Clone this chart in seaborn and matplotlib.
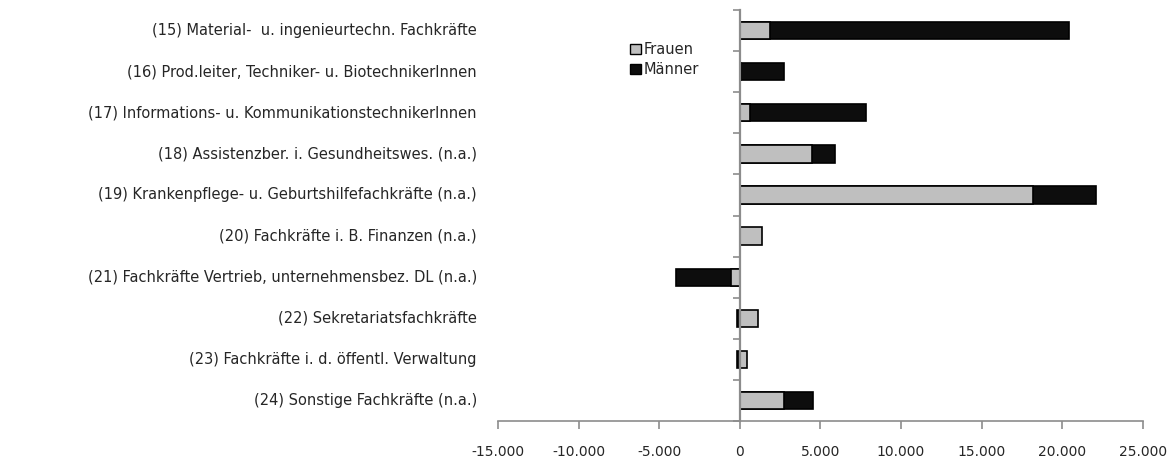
import pandas as pd
import matplotlib.pyplot as plt
import matplotlib.ticker as mticker
from matplotlib.patches import Patch
import seaborn as sns

berufe = [
    "(15) Material-  u. ingenieurtechn. Fachkräfte",
    "(16) Prod.leiter, Techniker- u. BiotechnikerInnen",
    "(17) Informations- u. KommunikationstechnikerInnen",
    "(18) Assistenzber. i. Gesundheitswes. (n.a.)",
    "(19) Krankenpflege- u. Geburtshilfefachkräfte (n.a.)",
    "(20) Fachkräfte i. B. Finanzen (n.a.)",
    "(21) Fachkräfte Vertrieb, unternehmensbez. DL (n.a.)",
    "(22) Sekretariatsfachkräfte",
    "(23) Fachkräfte i. d. öffentl. Verwaltung",
    "(24) Sonstige Fachkräfte (n.a.)",
]
frauen = [1900, 50, 650, 4500, 18200, 1400, -550, 1150, 420, 2750]
maenner = [18500, 2700, 7150, 1400, 3900, 0, -3400, -150, -150, 1800]

GRAU = "#bfbfbf"
SCHWARZ = "#0d0d0d"
ACHSE = "#8c8c8c"

df = pd.DataFrame({"Beruf": berufe, "Frauen": frauen, "Männer": maenner})
# Excel-Stapelung: gleiche Vorzeichen werden aufeinander gestapelt
df["Männer_Ende"] = [f + m if f * m > 0 else m for f, m in zip(frauen, maenner)]

sns.set_style("white")
plt.rcParams["font.family"] = ["DejaVu Sans"]

fig, ax = plt.subplots(figsize=(11.72, 4.61), dpi=100)
fig.subplots_adjust(left=0.425, right=0.975, top=0.978, bottom=0.087)

sns.barplot(data=df, y="Beruf", x="Männer_Ende", orient="h", color=SCHWARZ,
            width=0.42, edgecolor="black", linewidth=1.2, saturation=1, ax=ax)
sns.barplot(data=df, y="Beruf", x="Frauen", orient="h", color=GRAU,
            width=0.42, edgecolor="black", linewidth=1.2, saturation=1, ax=ax)

ax.set_xlim(-15000, 25000)
ax.set_ylim(len(berufe) - 0.5, -0.5)
ax.set_xlabel("")
ax.set_ylabel("")

ax.xaxis.set_major_locator(mticker.MultipleLocator(5000))
ax.xaxis.set_major_formatter(
    mticker.FuncFormatter(lambda v, p: f"{v:,.0f}".replace(",", ".")))
ax.tick_params(axis="x", bottom=True, direction="out", length=6, width=1.2,
               color=ACHSE, pad=11, labelsize=10, labelcolor="#262626")

# Kategorienachse liegt bei 0, Beschriftung links außen
for s in ["top", "right"]:
    ax.spines[s].set_visible(False)
ax.spines["left"].set_position(("data", 0))
ax.spines["left"].set_color(ACHSE)
ax.spines["left"].set_linewidth(1.6)
ax.spines["left"].set_zorder(5)
ax.spines["bottom"].set_color(ACHSE)
ax.spines["bottom"].set_linewidth(1.2)

ax.set_yticks([i - 0.5 for i in range(len(berufe) + 1)])
ax.set_yticklabels([])
ax.tick_params(axis="y", left=True, direction="out", length=5, width=1.2,
               color=ACHSE)

for i, b in enumerate(berufe):
    ax.text(-0.033, i, b, transform=ax.get_yaxis_transform(), ha="right",
            va="center", fontsize=10.5, color="#262626")

handles = [Patch(facecolor=GRAU, edgecolor="black", label="Frauen"),
           Patch(facecolor=SCHWARZ, edgecolor="black", label="Männer")]
ax.legend(handles=handles, loc="upper left", bbox_to_anchor=(0.185, 0.955),
          frameon=False, fontsize=10.5, handlelength=0.7, handleheight=0.7,
          handletextpad=0.2, labelspacing=0.35, labelcolor="#262626")

plt.savefig("out.png", dpi=100)
